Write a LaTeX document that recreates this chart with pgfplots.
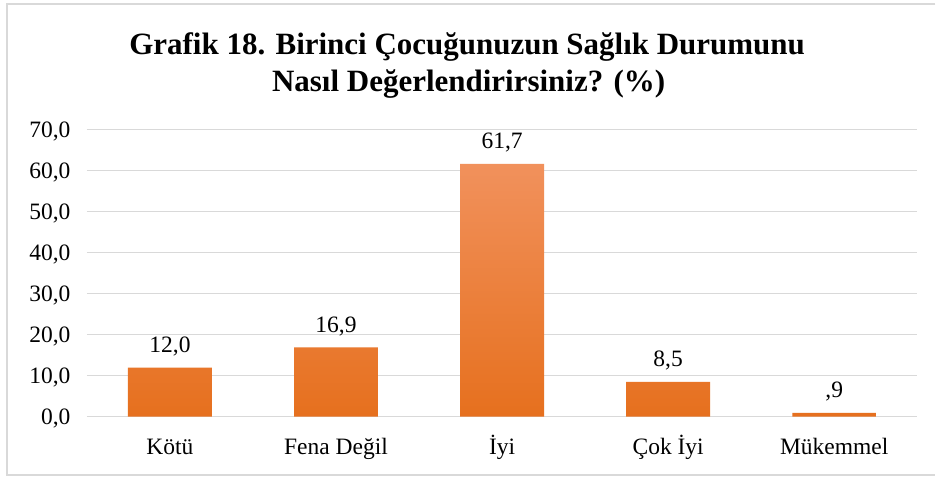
\documentclass[border=0pt]{standalone}
\usepackage{fontspec}
\setmainfont{Liberation Serif}
\usepackage{pgfplots}
\usepackage{pgfplotstable}
\pgfplotsset{compat=1.18}
\definecolor{gridc}{RGB}{217,217,217}
\definecolor{bartop}{RGB}{241,145,92}
\definecolor{barbot}{RGB}{230,112,30}
\pgfplotstableread{
x y lab
0 12.0 12,0
1 16.9 16,9
2 61.7 61,7
3 8.5 8,5
4 0.9 ,9
}\datatab
\begin{document}
\begin{tikzpicture}[x=1pt,y=1pt]
\fill[white] (0,0) rectangle (936,477);
\draw[gridc, line width=1.5pt] (936,473) -- (7,473) -- (7,1.5) -- (936,1.5);
\node[anchor=base, font=\bfseries\fontsize{31}{37}\selectfont] at (467.5,422) {Grafik 18. Birinci Çocuğunuzun  Sağlık Durumunu};
\node[anchor=base, font=\bfseries\fontsize{31}{37}\selectfont] at (469,385) {Nasıl Değerlendirirsiniz? (\%)};
\begin{axis}[
  at={(87pt,60pt)}, anchor=south west,
  scale only axis, width=831pt, height=287pt,
  xmin=-0.5, xmax=4.5, ymin=0, ymax=70,
  ytick={0,10,...,70},
  xtick={0,1,2,3,4},
  xticklabels={Kötü, Fena Değil, İyi, Çok İyi, Mükemmel},
  axis line style={draw=none},
  major tick length=0pt,
  ymajorgrids, grid style={gridc, line width=1pt},
  /pgf/number format/assume math mode=true,
  yticklabel={\pgfmathprintnumber[use comma,fixed,fixed zerofill,precision=1]{\tick}},
  tick label style={font=\fontsize{23.5}{28}\selectfont},
  yticklabel style={xshift=-13pt, yshift=-2pt},
  xticklabel style={anchor=base, yshift=-38pt},
  clip=false,
]
\addplot[ybar, bar width=84pt, draw=none, top color=bartop, bottom color=barbot,
  point meta=explicit symbolic,
  nodes near coords,
  nodes near coords style={font=\fontsize{23.5}{28}\selectfont, anchor=base, yshift=15pt}]
  table[x=x, y=y, meta=lab] {\datatab};
\end{axis}
\end{tikzpicture}
\end{document}
